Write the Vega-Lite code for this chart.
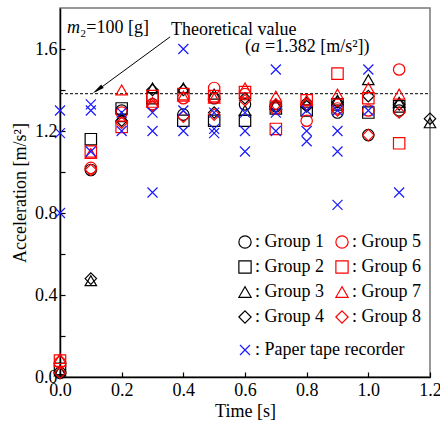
{
  "$schema": "https://vega.github.io/schema/vega-lite/v6.json",
  "width": 370,
  "height": 369,
  "autosize": "none",
  "padding": {"left": 60, "top": 8, "right": 10, "bottom": 48},
  "background": "white",
  "config": {
    "font": "Liberation Serif",
    "view": {"stroke": "#777", "strokeWidth": 1.5},
    "axis": {
      "domainColor": "black", "domainWidth": 1.5,
      "tickColor": "black", "tickSize": -5, "tickWidth": 1.2,
      "labelFont": "Liberation Serif", "labelFontSize": 18, "labelColor": "black",
      "titleFont": "Liberation Serif", "titleFontSize": 18, "titleFontWeight": "normal", "titleColor": "black",
      "grid": false
    },
    "legend": {
      "labelFont": "Liberation Serif", "labelFontSize": 18, "labelColor": "black",
      "symbolStrokeWidth": 1.2, "symbolSize": 150, "labelOffset": 1
    }
  },
  "datasets": {
    "groups": [
      {"t": 0.0, "a": 0.02, "g": "Group 1"}, {"t": 0.0, "a": 0.04, "g": "Group 2"}, {"t": 0.0, "a": 0.03, "g": "Group 3"}, {"t": 0.0, "a": 0.02, "g": "Group 4"},
      {"t": 0.0, "a": 0.07, "g": "Group 5"}, {"t": 0.0, "a": 0.08, "g": "Group 6"}, {"t": 0.0, "a": 0.09, "g": "Group 7"}, {"t": 0.0, "a": 0.02, "g": "Group 8"},
      {"t": 0.1, "a": 1.01, "g": "Group 1"}, {"t": 0.1, "a": 1.16, "g": "Group 2"}, {"t": 0.1, "a": 0.47, "g": "Group 3"}, {"t": 0.1, "a": 0.48, "g": "Group 4"},
      {"t": 0.1, "a": 1.02, "g": "Group 5"}, {"t": 0.1, "a": 1.10, "g": "Group 6"}, {"t": 0.1, "a": 1.09, "g": "Group 7"}, {"t": 0.1, "a": 1.01, "g": "Group 8"},
      {"t": 0.2, "a": 1.30, "g": "Group 1"}, {"t": 0.2, "a": 1.31, "g": "Group 2"}, {"t": 0.2, "a": 1.27, "g": "Group 3"}, {"t": 0.2, "a": 1.25, "g": "Group 4"},
      {"t": 0.2, "a": 1.29, "g": "Group 5"}, {"t": 0.2, "a": 1.22, "g": "Group 6"}, {"t": 0.2, "a": 1.40, "g": "Group 7"}, {"t": 0.2, "a": 1.24, "g": "Group 8"},
      {"t": 0.3, "a": 1.33, "g": "Group 1"}, {"t": 0.3, "a": 1.36, "g": "Group 2"}, {"t": 0.3, "a": 1.41, "g": "Group 3"}, {"t": 0.3, "a": 1.40, "g": "Group 4"},
      {"t": 0.3, "a": 1.33, "g": "Group 5"}, {"t": 0.3, "a": 1.37, "g": "Group 6"}, {"t": 0.3, "a": 1.34, "g": "Group 7"}, {"t": 0.3, "a": 1.32, "g": "Group 8"},
      {"t": 0.4, "a": 1.28, "g": "Group 1"}, {"t": 0.4, "a": 1.25, "g": "Group 2"}, {"t": 0.4, "a": 1.41, "g": "Group 3"}, {"t": 0.4, "a": 1.40, "g": "Group 4"},
      {"t": 0.4, "a": 1.36, "g": "Group 5"}, {"t": 0.4, "a": 1.38, "g": "Group 6"}, {"t": 0.4, "a": 1.37, "g": "Group 7"}, {"t": 0.4, "a": 1.27, "g": "Group 8"},
      {"t": 0.5, "a": 1.36, "g": "Group 1"}, {"t": 0.5, "a": 1.25, "g": "Group 2"}, {"t": 0.5, "a": 1.38, "g": "Group 3"}, {"t": 0.5, "a": 1.29, "g": "Group 4"},
      {"t": 0.5, "a": 1.41, "g": "Group 5"}, {"t": 0.5, "a": 1.37, "g": "Group 6"}, {"t": 0.5, "a": 1.36, "g": "Group 7"}, {"t": 0.5, "a": 1.28, "g": "Group 8"},
      {"t": 0.6, "a": 1.33, "g": "Group 1"}, {"t": 0.6, "a": 1.25, "g": "Group 2"}, {"t": 0.6, "a": 1.30, "g": "Group 3"}, {"t": 0.6, "a": 1.36, "g": "Group 4"},
      {"t": 0.6, "a": 1.38, "g": "Group 5"}, {"t": 0.6, "a": 1.39, "g": "Group 6"}, {"t": 0.6, "a": 1.41, "g": "Group 7"}, {"t": 0.6, "a": 1.35, "g": "Group 8"},
      {"t": 0.7, "a": 1.32, "g": "Group 1"}, {"t": 0.7, "a": 1.31, "g": "Group 2"}, {"t": 0.7, "a": 1.33, "g": "Group 3"}, {"t": 0.7, "a": 1.32, "g": "Group 4"},
      {"t": 0.7, "a": 1.31, "g": "Group 5"}, {"t": 0.7, "a": 1.21, "g": "Group 6"}, {"t": 0.7, "a": 1.37, "g": "Group 7"}, {"t": 0.7, "a": 1.33, "g": "Group 8"},
      {"t": 0.8, "a": 1.33, "g": "Group 1"}, {"t": 0.8, "a": 1.30, "g": "Group 2"}, {"t": 0.8, "a": 1.34, "g": "Group 3"}, {"t": 0.8, "a": 1.32, "g": "Group 4"},
      {"t": 0.8, "a": 1.25, "g": "Group 5"}, {"t": 0.8, "a": 1.35, "g": "Group 6"}, {"t": 0.8, "a": 1.35, "g": "Group 7"}, {"t": 0.8, "a": 1.33, "g": "Group 8"},
      {"t": 0.9, "a": 1.29, "g": "Group 1"}, {"t": 0.9, "a": 1.33, "g": "Group 2"}, {"t": 0.9, "a": 1.35, "g": "Group 3"}, {"t": 0.9, "a": 1.34, "g": "Group 4"},
      {"t": 0.9, "a": 1.31, "g": "Group 5"}, {"t": 0.9, "a": 1.48, "g": "Group 6"}, {"t": 0.9, "a": 1.38, "g": "Group 7"}, {"t": 0.9, "a": 1.30, "g": "Group 8"},
      {"t": 1.0, "a": 1.18, "g": "Group 1"}, {"t": 1.0, "a": 1.29, "g": "Group 2"}, {"t": 1.0, "a": 1.45, "g": "Group 3"}, {"t": 1.0, "a": 1.37, "g": "Group 4"},
      {"t": 1.0, "a": 1.30, "g": "Group 5"}, {"t": 1.0, "a": 1.36, "g": "Group 6"}, {"t": 1.0, "a": 1.41, "g": "Group 7"}, {"t": 1.0, "a": 1.18, "g": "Group 8"},
      {"t": 1.1, "a": 1.30, "g": "Group 1"}, {"t": 1.1, "a": 1.32, "g": "Group 2"}, {"t": 1.1, "a": 1.34, "g": "Group 3"}, {"t": 1.1, "a": 1.33, "g": "Group 4"},
      {"t": 1.1, "a": 1.50, "g": "Group 5"}, {"t": 1.1, "a": 1.14, "g": "Group 6"}, {"t": 1.1, "a": 1.38, "g": "Group 7"}, {"t": 1.1, "a": 1.29, "g": "Group 8"},
      {"t": 1.2, "a": 1.24, "g": "Group 3"}, {"t": 1.2, "a": 1.26, "g": "Group 4"}
    ],
    "paper": [
      {"t": 0.0, "a": 1.30, "g": "Paper tape recorder"}, {"t": 0.0, "a": 1.19, "g": "Paper tape recorder"}, {"t": 0.0, "a": 0.80, "g": "Paper tape recorder"},
      {"t": 0.1, "a": 1.33, "g": "Paper tape recorder"}, {"t": 0.1, "a": 1.30, "g": "Paper tape recorder"}, {"t": 0.1, "a": 1.10, "g": "Paper tape recorder"},
      {"t": 0.2, "a": 1.29, "g": "Paper tape recorder"}, {"t": 0.2, "a": 1.20, "g": "Paper tape recorder"},
      {"t": 0.3, "a": 1.29, "g": "Paper tape recorder"}, {"t": 0.3, "a": 1.20, "g": "Paper tape recorder"}, {"t": 0.3, "a": 0.90, "g": "Paper tape recorder"},
      {"t": 0.4, "a": 1.60, "g": "Paper tape recorder"}, {"t": 0.4, "a": 1.30, "g": "Paper tape recorder"}, {"t": 0.4, "a": 1.20, "g": "Paper tape recorder"},
      {"t": 0.5, "a": 1.29, "g": "Paper tape recorder"}, {"t": 0.5, "a": 1.21, "g": "Paper tape recorder"}, {"t": 0.5, "a": 1.19, "g": "Paper tape recorder"},
      {"t": 0.6, "a": 1.29, "g": "Paper tape recorder"}, {"t": 0.6, "a": 1.20, "g": "Paper tape recorder"}, {"t": 0.6, "a": 1.10, "g": "Paper tape recorder"},
      {"t": 0.7, "a": 1.50, "g": "Paper tape recorder"}, {"t": 0.7, "a": 1.29, "g": "Paper tape recorder"}, {"t": 0.7, "a": 1.20, "g": "Paper tape recorder"},
      {"t": 0.8, "a": 1.30, "g": "Paper tape recorder"}, {"t": 0.8, "a": 1.20, "g": "Paper tape recorder"}, {"t": 0.8, "a": 1.15, "g": "Paper tape recorder"},
      {"t": 0.9, "a": 1.30, "g": "Paper tape recorder"}, {"t": 0.9, "a": 1.20, "g": "Paper tape recorder"}, {"t": 0.9, "a": 1.10, "g": "Paper tape recorder"}, {"t": 0.9, "a": 0.84, "g": "Paper tape recorder"},
      {"t": 1.0, "a": 1.50, "g": "Paper tape recorder"}, {"t": 1.0, "a": 1.30, "g": "Paper tape recorder"},
      {"t": 1.1, "a": 0.90, "g": "Paper tape recorder"}
    ]
  },
  "layer": [
    {
      "data": {"values": [{}]},
      "mark": {"type": "rule", "color": "black", "strokeWidth": 1, "strokeDash": [3, 2]},
      "encoding": {
        "x": {"datum": 0}, "x2": {"datum": 1.2},
        "y": {"datum": 1.382}
      }
    },
    {
      "data": {"values": [{}]},
      "mark": {"type": "rule", "color": "black", "strokeWidth": 1},
      "encoding": {
        "x": {"datum": 0.357}, "y": {"datum": 1.659},
        "x2": {"datum": 0.115}, "y2": {"datum": 1.392}
      }
    },
    {
      "data": {"values": [{}]},
      "mark": {"type": "point", "shape": "M0,-1L0.35,1L-0.35,1Z", "filled": true, "color": "black", "size": 144, "angle": 234, "opacity": 1, "strokeWidth": 0},
      "encoding": {"x": {"datum": 0.122}, "y": {"datum": 1.401}}
    },
    {
      "data": {"values": [{}]},
      "mark": {"type": "text", "text": "Theoretical value", "align": "left", "baseline": "alphabetic", "fontSize": 18, "font": "Liberation Serif", "color": "black"},
      "encoding": {"x": {"datum": 0.36}, "y": {"datum": 1.668}}
    },
    {
      "data": {"values": [{}]},
      "mark": {"type": "text", "text": "(", "align": "left", "baseline": "alphabetic", "fontSize": 18, "font": "Liberation Serif", "color": "black"},
      "encoding": {"x": {"datum": 0.6}, "y": {"datum": 1.585}}
    },
    {
      "data": {"values": [{}]},
      "mark": {"type": "text", "text": "a", "align": "left", "baseline": "alphabetic", "fontSize": 18, "fontStyle": "italic", "font": "Liberation Serif", "color": "black"},
      "encoding": {"x": {"datum": 0.6195}, "y": {"datum": 1.585}}
    },
    {
      "data": {"values": [{}]},
      "mark": {"type": "text", "text": "=1.382 [m/s²])", "align": "left", "baseline": "alphabetic", "fontSize": 18, "font": "Liberation Serif", "color": "black"},
      "encoding": {"x": {"datum": 0.665}, "y": {"datum": 1.585}}
    },
    {
      "data": {"values": [{}]},
      "mark": {"type": "text", "text": "m", "align": "left", "baseline": "alphabetic", "fontSize": 18, "fontStyle": "italic", "font": "Liberation Serif", "color": "black"},
      "encoding": {"x": {"datum": 0.023}, "y": {"datum": 1.678}}
    },
    {
      "data": {"values": [{}]},
      "mark": {"type": "text", "text": "₂=100 [g]", "align": "left", "baseline": "alphabetic", "fontSize": 18, "font": "Liberation Serif", "color": "black"},
      "encoding": {"x": {"datum": 0.065}, "y": {"datum": 1.678}}
    },
    {
      "data": {"name": "groups"},
      "mark": {"type": "point", "filled": false, "size": 130, "strokeWidth": 1.2, "opacity": 1},
      "encoding": {
        "x": {
          "field": "t", "type": "quantitative", "title": "Time [s]",
          "scale": {"domain": [0, 1.2], "nice": false, "zero": false},
          "axis": {"values": [0, 0.1, 0.2, 0.3, 0.4, 0.5, 0.6, 0.7, 0.8, 0.9, 1.0, 1.1, 1.2], "labelExpr": "round(datum.value*10)%2==0 ? format(datum.value,'.1f') : ''", "labelPadding": 9, "titlePadding": 3, "labelFlush": false, "labelFont": "Liberation Serif", "titleFont": "Liberation Serif"}
        },
        "y": {
          "field": "a", "type": "quantitative", "title": "Acceleration [m/s²]",
          "scale": {"domain": [0, 1.8], "nice": false, "zero": false},
          "axis": {"values": [0, 0.2, 0.4, 0.6, 0.8, 1.0, 1.2, 1.4, 1.6], "labelExpr": "round(datum.value*10)%4==0 ? format(datum.value,'.1f') : ''", "labelPadding": 8, "titlePadding": 5, "labelFlush": false, "labelFont": "Liberation Serif", "titleFont": "Liberation Serif"}
        },
        "shape": {
          "field": "g", "type": "nominal",
          "scale": {"domain": ["Group 1", "Group 2", "Group 3", "Group 4", "Group 5", "Group 6", "Group 7", "Group 8"], "range": ["circle", "square", "triangle-up", "diamond", "circle", "square", "triangle-up", "diamond"]},
          "legend": {"orient": "none", "legendX": 176, "legendY": 225, "columns": 2, "title": null, "columnPadding": 9, "rowPadding": 7, "labelExpr": "': ' + datum.label"}
        },
        "color": {
          "field": "g", "type": "nominal",
          "scale": {"domain": ["Group 1", "Group 2", "Group 3", "Group 4", "Group 5", "Group 6", "Group 7", "Group 8"], "range": ["black", "black", "black", "black", "#ff0000", "#ff0000", "#ff0000", "#ff0000"]},
          "legend": {"orient": "none", "legendX": 176, "legendY": 225, "columns": 2, "title": null, "columnPadding": 9, "rowPadding": 7, "labelExpr": "': ' + datum.label"}
        }
      }
    },
    {
      "data": {"name": "paper"},
      "mark": {"type": "point", "filled": false, "size": 100, "strokeWidth": 1.2, "opacity": 1},
      "encoding": {
        "x": {"field": "t", "type": "quantitative"},
        "y": {"field": "a", "type": "quantitative"},
        "shape": {
          "field": "g", "type": "nominal",
          "scale": {"range": ["M-1,-1L1,1M-1,1L1,-1"]},
          "legend": {"orient": "none", "legendX": 176, "legendY": 333, "title": null, "labelExpr": "' : ' + datum.label", "symbolSize": 100}
        },
        "color": {
          "field": "g", "type": "nominal",
          "scale": {"range": ["#1a1aff"]},
          "legend": {"orient": "none", "legendX": 176, "legendY": 333, "title": null, "labelExpr": "' : ' + datum.label", "symbolSize": 100}
        }
      }
    }
  ],
  "resolve": {"scale": {"shape": "independent", "color": "independent"}}
}
